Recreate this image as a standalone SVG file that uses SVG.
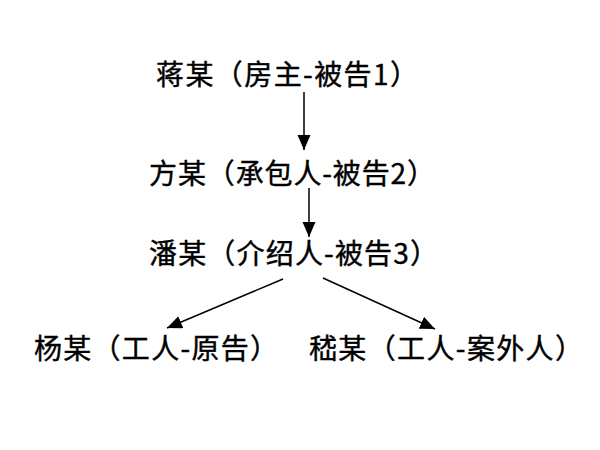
<svg xmlns="http://www.w3.org/2000/svg" width="600" height="450" viewBox="0 0 600 450">
<style>
.t{font-family:"Noto Sans CJK SC","Liberation Sans",sans-serif;font-size:28px;fill:#000;stroke:#000;stroke-width:0.4}
.c{stroke:#000;stroke-width:1.5;fill:none;marker-end:url(#ah)}
</style>
<defs>
<marker id="ah" markerUnits="userSpaceOnUse" markerWidth="16" markerHeight="14" refX="15" refY="6.5" orient="auto" viewBox="0 0 16 14">
<path d="M0,0 L15,6.5 L0,13 Z" fill="#000"/>
</marker>
</defs>
<rect width="600" height="450" fill="#fff"/>
<g id="connectors">
<line class="c" x1="304" y1="92" x2="304" y2="150"/>
<line class="c" x1="309" y1="188" x2="309" y2="237"/>
<line class="c" x1="283" y1="279" x2="167" y2="328"/>
<line class="c" x1="323" y1="278" x2="435" y2="329"/>
</g>
<g id="n1"><text class="t" x="156" y="85" textLength="262" lengthAdjust="spacing">蒋某（房主-被告1）</text></g>
<g id="n2"><text class="t" x="149" y="184" textLength="286" lengthAdjust="spacing">方某（承包人-被告2）</text></g>
<g id="n3"><text class="t" x="149" y="264" textLength="289" lengthAdjust="spacing">潘某（介绍人-被告3）</text></g>
<g id="n4"><text class="t" x="34" y="359" textLength="244" lengthAdjust="spacing">杨某（工人-原告）</text></g>
<g id="n5"><text class="t" x="309" y="359" textLength="274" lengthAdjust="spacing">嵇某（工人-案外人）</text></g>
</svg>
